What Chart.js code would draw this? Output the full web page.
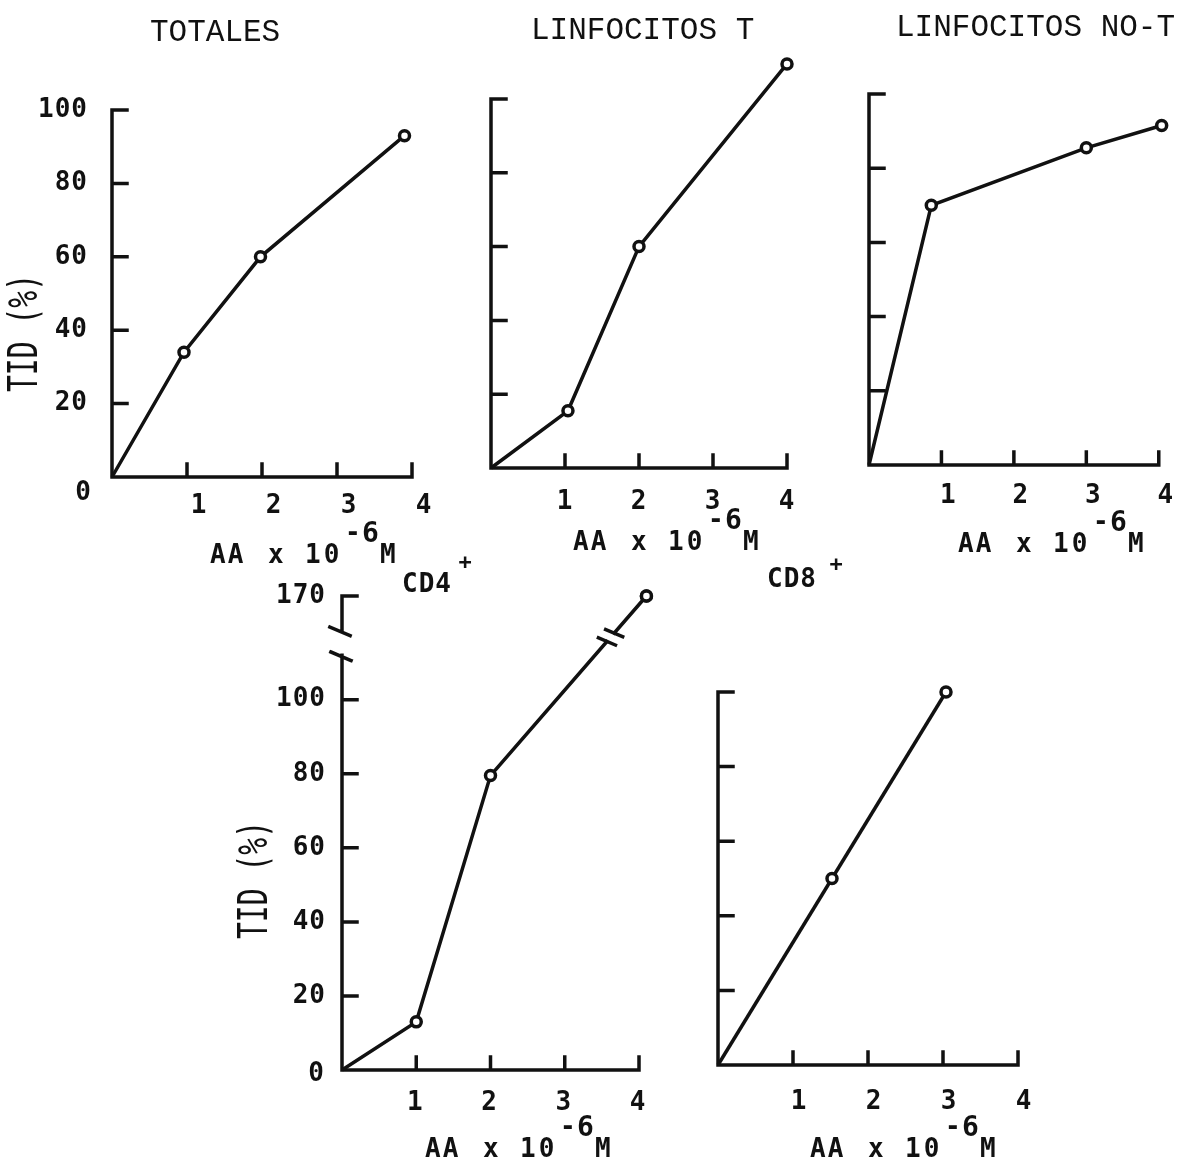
<!DOCTYPE html>
<html lang="es">
<head>
<meta charset="utf-8">
<title>TID (%) frente a AA</title>
<script src="https://cdn.jsdelivr.net/npm/chart.js@4.4.1/dist/chart.umd.min.js"></script>
<style>
  html, body { margin: 0; padding: 0; background: #fff; }
  #lienzo { position: relative; width: 1189px; height: 1168px; overflow: hidden; }
  #lienzo canvas { position: absolute; left: 0; top: 0; }
</style>
</head>
<body>
<div id="lienzo">
  <canvas id="gTotales" width="1189" height="1168"></canvas>
  <canvas id="gLinfT" width="1189" height="1168"></canvas>
  <canvas id="gNoT" width="1189" height="1168"></canvas>
  <canvas id="gCd4" width="1189" height="1168"></canvas>
  <canvas id="gCd8" width="1189" height="1168"></canvas>
</div>
<script>
// ====== DATOS (AA x 10^-6 M  /  TID %) ======
const totalesX = [0, 0.96, 1.98, 3.9];
const totalesY = [0, 34, 60, 93];
const linfTX = [0, 1.04, 2, 4];
const linfTY = [0, 15.5, 60, 109.5];
const noTX = [0, 0.86, 3, 4.04];
const noTY = [0, 70, 85.5, 91.5];
const cd4X = [0, 1, 2, 4.1];
const cd4Y = [0, 13, 79.5, 170];
const cd8X = [0, 1.52, 3.04];
const cd8Y = [0, 50, 100];

const ticksX = [1, 2, 3, 4];
const ticksY = [20, 40, 60, 80, 100];
const ticksYCd4 = [20, 40, 60, 80, 100, 170];

// corte del eje de CD4: de 112 salta a 161, ocupando 7 unidades
const CORTE = { bajo: 112, alto: 161, hueco: 7 };

const NEGRO = '#111';
const ANCHO = 1189, ALTO = 1168;
const X_FIN = 4, X_MAX = 4.3;       // el eje se dibuja hasta 4, la escala llega algo más lejos
const GROSOR = 3.5;
const MONO = "'DejaVu Sans Mono', monospace";
const fuenteNum = { family: MONO, size: 26, weight: 'bold', lineHeight: 1 };

// Escala lineal con tramo comprimido (eje partido)
class EscalaCortada extends Chart.LinearScale {
    static id = 'cortada';
    comprimir(v) {
        const { bajo, alto, hueco } = CORTE;
        if (v <= bajo) return v;
        if (v >= alto) return v - (alto - bajo) + hueco;
        return bajo + (v - bajo) * hueco / (alto - bajo);
    }
    getPixelForValue(v) {
        if (v === null || v === undefined) return NaN;
        const lo = this.comprimir(this.min), hi = this.comprimir(this.max);
        return this.getPixelForDecimal((this.comprimir(v) - lo) / (hi - lo));
    }
    getValueForPixel(px) {
        const { bajo, alto, hueco } = CORTE;
        const lo = this.comprimir(this.min), hi = this.comprimir(this.max);
        const c = lo + this.getDecimalForPixel(px) * (hi - lo);
        if (c <= bajo) return c;
        if (c >= bajo + hueco) return c + (alto - bajo) - hueco;
        return bajo + (c - bajo) * (alto - bajo) / hueco;
    }
}
Chart.register(EscalaCortada);

// area: píxeles del origen (l, b), de x = 4 (r) y del tope del eje (t)
const paneles = [
    { id: 'gTotales', x: totalesX, y: totalesY, area: { l: 112, t: 110, r: 412, b: 477 },
      tope: 100, yMax: 115, ticksY: ticksY, etiquetasY: true, yPad: 24, xPad: 16, xOff: 12,
      cero: [-29, 16], tid: [27, 333], titulo: ['TOTALES', 150, 41], ejeX: [210, 563] },
    { id: 'gLinfT', x: linfTX, y: linfTY, area: { l: 491, t: 99, r: 787, b: 468 },
      tope: 100, yMax: 115, ticksY: ticksY, etiquetasY: false, xPad: 21, xOff: 0,
      titulo: ['LINFOCITOS T', 531, 39], ejeX: [573, 550] },
    { id: 'gNoT', x: noTX, y: noTY, area: { l: 869, t: 94, r: 1165, b: 465 },
      tope: 100, yMax: 115, ticksY: ticksY, etiquetasY: false, xPad: 18, xOff: 7,
      titulo: ['LINFOCITOS NO-T', 896, 36], ejeX: [958, 552] },
    { id: 'gCd4', x: cd4X, y: cd4Y, area: { l: 342, t: 596, r: 639, b: 1070 },
      tope: 170, yMax: 170, cortada: true, ticksY: ticksYCd4, etiquetasY: true, yPad: 16, xPad: 20, xOff: -1,
      cero: [-26, 4], tid: [257, 880], titulo: ['CD4', 402, 592], sup: [465, 563], ejeX: [425, 1157] },
    { id: 'gCd8', x: cd8X, y: cd8Y, area: { l: 718, t: 692, r: 1018, b: 1065 },
      tope: 100, yMax: 115, ticksY: ticksY, etiquetasY: false, xPad: 24, xOff: 6,
      titulo: ['CD8', 767, 587], sup: [836, 565], ejeX: [810, 1157] }
];

function texto(ctx, s, x, y, fuente, op = {}) {
    ctx.save();
    ctx.font = fuente;
    ctx.fillStyle = NEGRO;
    ctx.letterSpacing = op.espacio || '0px';
    ctx.textAlign = op.alinear || 'left';
    ctx.textBaseline = op.base || 'alphabetic';
    ctx.fillText(s, x, y);
    ctx.restore();
}

// "AA x 10^-6 M" con el exponente levantado
function tituloEjeX(ctx, x, y) {
    const f = 'bold 26px ' + MONO;
    texto(ctx, 'AA', x, y, f, { espacio: '2px' });
    texto(ctx, 'x', x + 58, y, f);
    texto(ctx, '10', x + 95, y, f, { espacio: '3px' });
    texto(ctx, '-', x + 135, y - 22, f);
    texto(ctx, '6', x + 152, y - 21, 'bold 28px ' + MONO);
    texto(ctx, 'M', x + 170, y, f);
}

function tituloEjeY(ctx, cx, cy) {
    ctx.save();
    ctx.translate(cx, cy);
    ctx.rotate(-Math.PI / 2);
    ctx.scale(0.7, 1);
    ctx.font = '40px ' + MONO;
    ctx.letterSpacing = '0px';
    ctx.fillStyle = NEGRO;
    ctx.textAlign = 'center';
    ctx.textBaseline = 'middle';
    ctx.fillText('TID (%)', 0, 0);
    ctx.restore();
}

// marca inclinada de corte centrada en (cx, cy)
function marcaCorte(ctx, cx, cy) {
    const ux = 0.92, uy = 0.39, m = 11;
    ctx.moveTo(cx - ux * m, cy - uy * m);
    ctx.lineTo(cx + ux * m, cy + uy * m);
}

function decorado(p) {
    return {
        id: 'decorado',
        beforeDraw(chart) {
            chart.ctx.letterSpacing = '1px';
        },
        beforeDatasetsDraw(chart) {
            const ctx = chart.ctx, sx = chart.scales.x, sy = chart.scales.y;
            const x0 = sx.getPixelForValue(0), y0 = sy.getPixelForValue(0);
            const yTope = sy.getPixelForValue(p.tope);
            ctx.save();
            ctx.strokeStyle = NEGRO;
            ctx.lineWidth = GROSOR;
            ctx.lineCap = 'square';
            ctx.beginPath();
            ctx.moveTo(x0, y0);
            ctx.lineTo(sx.getPixelForValue(X_FIN), y0);
            if (p.cortada) {
                const yb = sy.getPixelForValue(CORTE.bajo), ya = sy.getPixelForValue(CORTE.alto);
                ctx.moveTo(x0, y0);
                ctx.lineTo(x0, yb);
                ctx.moveTo(x0, ya);
                ctx.lineTo(x0, yTope);
                marcaCorte(ctx, x0 - 1, yb + 1);
                marcaCorte(ctx, x0 - 2, ya + 2);
            } else {
                ctx.moveTo(x0, y0);
                ctx.lineTo(x0, yTope);
            }
            // marcas hacia dentro
            sx.ticks.forEach(t => {
                const px = sx.getPixelForValue(t.value);
                ctx.moveTo(px, y0);
                ctx.lineTo(px, y0 - 13);
            });
            sy.ticks.forEach(t => {
                const py = sy.getPixelForValue(t.value);
                ctx.moveTo(x0, py);
                ctx.lineTo(x0 + 15, py);
            });
            ctx.stroke();
            ctx.restore();
        },
        afterDatasetsDraw(chart) {
            const ctx = chart.ctx, sx = chart.scales.x, sy = chart.scales.y;
            const x0 = sx.getPixelForValue(0), y0 = sy.getPixelForValue(0);

            if (p.cortada) {
                // corte sobre el último tramo de la curva
                const pts = chart.getDatasetMeta(0).data;
                const a = pts[pts.length - 2], b = pts[pts.length - 1];
                const t = 0.77;
                const cx = a.x + (b.x - a.x) * t, cy = a.y + (b.y - a.y) * t;
                const len = Math.hypot(b.x - a.x, b.y - a.y);
                const dx = (b.x - a.x) / len, dy = (b.y - a.y) / len;
                ctx.save();
                ctx.strokeStyle = '#fff';
                ctx.lineWidth = 8;
                ctx.beginPath();
                ctx.moveTo(cx - dx * 4, cy - dy * 4);
                ctx.lineTo(cx + dx * 4, cy + dy * 4);
                ctx.stroke();
                ctx.strokeStyle = NEGRO;
                ctx.lineWidth = GROSOR;
                ctx.beginPath();
                marcaCorte(ctx, cx - dx * 5.5, cy - dy * 5.5);
                marcaCorte(ctx, cx + dx * 5.5, cy + dy * 5.5);
                ctx.stroke();
                ctx.restore();
                // el último punto va encima del corte
                b.draw(ctx);
            }

            if (p.cero) {
                texto(ctx, '0', x0 + p.cero[0], y0 + p.cero[1], 'bold 26px ' + MONO,
                      { alinear: 'center', base: 'middle' });
            }
            if (p.tid) tituloEjeY(ctx, p.tid[0], p.tid[1]);

            const [tt, tx, ty] = p.titulo;
            if (p.sup) {
                texto(ctx, tt, tx, ty, 'bold 26px ' + MONO, { espacio: '1px' });
                texto(ctx, '+', p.sup[0], p.sup[1], 'bold 22px ' + MONO,
                      { alinear: 'center', base: 'middle' });
            } else {
                texto(ctx, tt, tx, ty, "31px 'Liberation Mono', 'Courier New', monospace");
            }
            tituloEjeX(ctx, p.ejeX[0], p.ejeX[1]);
        }
    };
}

function crearPanel(p) {
    const puntos = p.x.map((vx, i) => ({ x: vx, y: p.y[i] }));
    const { l, t, r, b } = p.area;
    // bordes del área de dibujo para que 0, 4 y el tope caigan en su sitio
    const derecha = l + (r - l) * X_MAX / X_FIN;
    const arriba = p.cortada ? t : b - (b - t) * p.yMax / p.tope;
    return new Chart(document.getElementById(p.id), {
        type: 'line',
        data: {
            datasets: [{
                data: puntos,
                borderColor: NEGRO,
                borderWidth: GROSOR,
                tension: 0,
                clip: false,
                pointRadius: c => c.dataIndex === 0 ? 0 : 5,
                pointBorderWidth: 3.5,
                pointBackgroundColor: '#fff',
                pointBorderColor: NEGRO
            }]
        },
        options: {
            responsive: false,
            animation: false,
            events: [],
            layout: {
                padding: { left: 0, top: arriba, right: ANCHO - derecha, bottom: 0 }
            },
            plugins: {
                legend: { display: false },
                tooltip: { enabled: false },
                title: { display: false }
            },
            scales: {
                x: {
                    type: 'linear',
                    min: 0,
                    max: X_MAX,
                    grid: { display: false, drawTicks: false },
                    border: { display: false },
                    afterBuildTicks: s => { s.ticks = ticksX.map(v => ({ value: v })); },
                    afterFit: s => { s.height = ALTO - b; },
                    ticks: {
                        padding: p.xPad,
                        labelOffset: p.xOff,
                        maxRotation: 0,
                        autoSkip: false,
                        color: NEGRO,
                        font: fuenteNum
                    }
                },
                y: {
                    type: p.cortada ? 'cortada' : 'linear',
                    min: 0,
                    max: p.yMax,
                    grid: { display: false, drawTicks: false },
                    border: { display: false },
                    afterBuildTicks: s => { s.ticks = p.ticksY.map(v => ({ value: v })); },
                    afterFit: s => { s.width = l; },
                    ticks: {
                        display: p.etiquetasY,
                        padding: p.yPad || 0,
                        color: NEGRO,
                        font: fuenteNum
                    }
                }
            }
        },
        plugins: [decorado(p)]
    });
}

paneles.forEach(crearPanel);
</script>
</body>
</html>
